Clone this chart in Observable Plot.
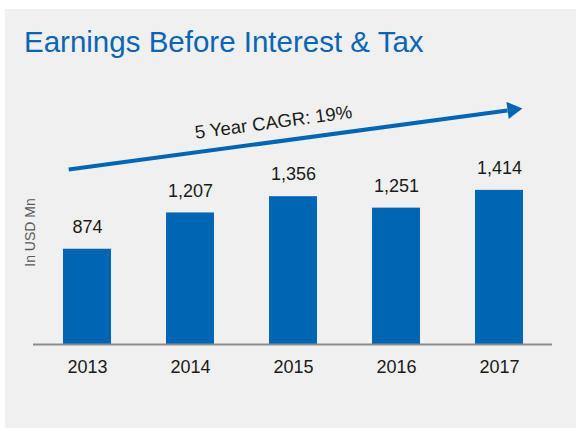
<!DOCTYPE html>
<html>
<head>
<meta charset="utf-8">
<script src="https://cdn.jsdelivr.net/npm/d3@7"></script>
<script src="https://cdn.jsdelivr.net/npm/@observablehq/plot@0.6"></script>
<style>
  html, body { margin: 0; padding: 0; background: #ffffff; width: 576px; height: 428px; overflow: hidden; }
  #panel { position: absolute; left: 5px; top: 9px; width: 571px; height: 419px; background: #f0f0f0; }
  #title { font-family: "Liberation Sans", Arial, sans-serif; font-size: 29.5px; line-height: 33px; color: #0a66b4; padding-top: 16px; padding-left: 19px; height: 33px; white-space: nowrap; }
  #chart svg { display: block; }
</style>
</head>
<body>
<div id="panel">
  <div id="title">Earnings Before Interest &amp; Tax</div>
  <div id="chart"></div>
</div>
<script>
// ---- data ----
const years = ["2013", "2014", "2015", "2016", "2017"];
const ebit = [874, 1207, 1356, 1251, 1414];
const valueLabels = ["874", "1,207", "1,356", "1,251", "1,414"];
const yAxisLabel = "In USD Mn";
const cagrText = "5 Year CAGR: 19%";
// trend arrow anchors (estimated, in data units)
const trendFrom = ["2013", 1628];
const trendTo = ["2017", 2137];
const cagrAnchor = ["2015", 2037];

// ---- tables built from the arrays ----
const rows = years.map((y, i) => ({year: y, value: ebit[i], label: valueLabels[i]}));
const trend = [{x1: trendFrom[0], y1: trendFrom[1], x2: trendTo[0], y2: trendTo[1]}];
const cagr = [{year: cagrAnchor[0], value: cagrAnchor[1], text: cagrText}];

const blue = "#0066b3";
const font = "'Liberation Sans', Arial, sans-serif";

const chart = Plot.plot({
  width: 571,
  height: 370,
  marginLeft: 28,
  marginRight: 24,
  marginTop: 62,
  marginBottom: 84,
  style: {background: "transparent", fontFamily: font, fontSize: "18px", color: "#1a1a1a", overflow: "visible"},
  x: {domain: years, paddingInner: 0.536, paddingOuter: 0.275, label: null},
  y: {domain: [0, 2055], axis: null},
  marks: [
    Plot.barY(rows, {x: "year", y: "value", fill: blue}),
    Plot.ruleY([0], {stroke: "#8c8c8c", strokeWidth: 2}),
    Plot.axisX({tickSize: 0, tickPadding: 16, fontSize: 18, fill: "#1a1a1a", label: null}),
    Plot.text(rows, {x: "year", y: "value", text: "label", dy: -22, fontSize: 18, fill: "#1a1a1a"}),
    Plot.text([yAxisLabel], {text: d => d, frameAnchor: "left", textAnchor: "middle", lineAnchor: "middle", rotate: -90, dx: -3, fontSize: 14, fill: "#595959"}),
    Plot.arrow(trend, {x1: "x1", y1: "y1", x2: "x2", y2: "y2", stroke: blue, strokeWidth: 4, headLength: 0, insetStart: -19, insetEnd: -8, strokeLinecap: "butt"}),
    Plot.dot(trend, {x: "x2", y: "y2", symbol: "triangle", r: 6.4, fill: blue, stroke: "none", rotate: 82.4, dx: 13, dy: -1.8}),
    Plot.text(cagr, {x: "year", y: "value", text: "text", rotate: -7.6, dx: -20, fontSize: 18.5, fill: "#1a1a1a"})
  ]
});
document.getElementById("chart").appendChild(chart);
</script>
</body>
</html>
